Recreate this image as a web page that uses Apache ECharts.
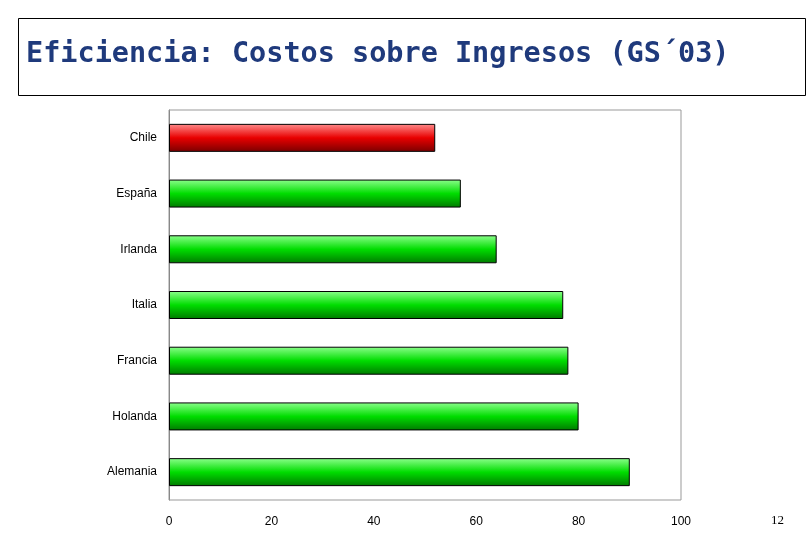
<!DOCTYPE html>
<html>
<head>
<meta charset="utf-8">
<script src="https://cdn.jsdelivr.net/npm/echarts@6/dist/echarts.min.js"></script>
<style>html,body{margin:0;padding:0;background:#fff}#chart{width:810px;height:540px}</style>
</head>
<body>
<div id="chart"></div>
<script>
var paises = ['Alemania', 'Holanda', 'Francia', 'Italia', 'Irlanda', 'España', 'Chile'];
var valores = [90, 80, 78, 77, 64, 57, 52];
var ticks = [0, 20, 40, 60, 80, 100];

function grad(top, mid, bot) {
    return new echarts.graphic.LinearGradient(0, 0, 0, 1, [
        { offset: 0, color: top }, { offset: 0.5, color: mid }, { offset: 1, color: bot }
    ]);
}
var verde = grad('#8cff8c', '#00dd00', '#007a00');
var rojo = grad('#ff8c8c', '#e80000', '#7a0000');

var chart = echarts.init(document.getElementById('chart'));
chart.setOption({
    animation: false,
    graphic: [
        { type: 'rect', shape: { x: 18.5, y: 18.5, width: 787, height: 77 },
          style: { fill: '#fff', stroke: '#000', lineWidth: 1 } },
        { type: 'text', left: 26, top: 40,
          style: { text: 'Eficiencia: Costos sobre Ingresos (GS´03)', fill: '#1f3a7c',
                   font: 'bold 28.5px "DejaVu Sans Mono", monospace' } },
        { type: 'text', left: 771, top: 514,
          style: { text: '12', fill: '#000', font: '13px "Liberation Serif", serif' } }
    ],
    grid: { left: 169, right: 129, top: 110, bottom: 40 },
    xAxis: {
        type: 'value', min: 0, max: 100, interval: 20,
        axisLine: { show: false }, axisTick: { show: false }, splitLine: { show: false },
        axisLabel: { color: '#000', fontFamily: 'Liberation Sans', fontSize: 12, margin: 16 }
    },
    yAxis: {
        type: 'category', data: paises,
        axisLine: { show: true, lineStyle: { color: '#777' } },
        axisTick: { show: false },
        axisLabel: { color: '#000', fontFamily: 'Liberation Sans', fontSize: 12, margin: 12 }
    },
    series: [{
        type: 'bar', data: valores.map(function (v, i) {
            return { value: v, itemStyle: { color: paises[i] === 'Chile' ? rojo : verde } };
        }),
        barWidth: 28,
        itemStyle: { borderColor: '#000', borderWidth: 1 },
        markArea: {
            silent: true,
            itemStyle: { color: 'rgba(0,0,0,0)', borderColor: '#999', borderWidth: 1 },
            data: [[{ xAxis: 0, yAxis: 'Alemania' }, { xAxis: 100, yAxis: 'Chile' }]]
        }
    }]
});
</script>
</body>
</html>
